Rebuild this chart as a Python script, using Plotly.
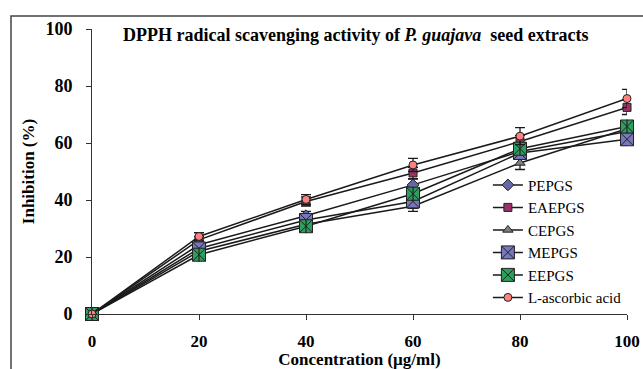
import plotly.graph_objects as go

conc = [0, 20, 40, 60, 80, 100]
pepgs = [0, 24.3, 34.5, 45.3, 57.0, 64.0]
eaepgs = [0, 26.0, 39.5, 49.5, 60.5, 72.5]
cepgs = [0, 22.0, 31.5, 37.8, 53.0, 65.0]
mepgs = [0, 23.0, 33.0, 39.5, 56.5, 61.3]
eepgs = [0, 20.8, 30.8, 42.2, 58.0, 65.8]
ascorbic = [0, 27.2, 40.2, 52.3, 62.4, 75.6]

err_pepgs = [0, 1.2, 1.5, 2.0, 2.0, 2.0]
err_eaepgs = [0, 1.2, 1.6, 2.0, 2.2, 2.5]
err_cepgs = [0, 1.0, 1.5, 1.8, 2.3, 2.0]
err_mepgs = [0, 1.0, 1.5, 1.8, 2.0, 2.0]
err_eepgs = [0, 1.0, 1.2, 1.8, 2.0, 2.0]
err_ascorbic = [0, 1.3, 1.7, 2.3, 3.0, 3.2]

series = [
    ("PEPGS", pepgs, err_pepgs, "diamond", "#6666aa", 9),
    ("EAEPGS", eaepgs, err_eaepgs, "square", "#993366", 8),
    ("CEPGS", cepgs, err_cepgs, "triangle-up", "#808080", 9),
    ("MEPGS", mepgs, err_mepgs, "square-x", "#7777bb", 13),
    ("EEPGS", eepgs, err_eepgs, "square-x", "#2e9e5e", 13),
    ("L-ascorbic acid", ascorbic, err_ascorbic, "circle", "#ff8080", 8),
]

SERIF = "Liberation Serif, Times New Roman, serif"

fig = go.Figure()
for name, vals, err, sym, col, size in series:
    fig.add_trace(go.Scatter(
        x=conc, y=vals, name=name, mode="lines+markers",
        line=dict(color="#1a1a1a", width=1.5),
        marker=dict(symbol=sym, color=col, size=size,
                    line=dict(color="#222222", width=1)),
        error_y=dict(type="data", array=err, visible=True, color="#1a1a1a",
                     thickness=1.3, width=5),
        cliponaxis=False,
    ))
    if name == "EEPGS":
        fig.add_trace(go.Scatter(
            x=conc, y=vals, mode="markers", showlegend=False, hoverinfo="skip",
            marker=dict(symbol="line-ns", size=10, color="#222222",
                        line=dict(color="#222222", width=1.2)),
            cliponaxis=False,
        ))

fig.update_layout(
    width=643, height=369,
    margin=dict(l=92, r=16, t=29, b=55, autoexpand=False),
    paper_bgcolor="white", plot_bgcolor="white",
    font=dict(family=SERIF, color="black"),
    showlegend=True,
    legend=dict(x=0.74, y=0.51, xanchor="left", yanchor="top",
                bgcolor="rgba(0,0,0,0)", font=dict(size=15, family=SERIF),
                tracegroupgap=0, itemsizing="trace"),
    xaxis=dict(range=[0, 100], tickvals=conc, showgrid=False, zeroline=False,
               showline=True, linecolor="#333333", linewidth=1,
               ticks="outside", ticklen=5, tickcolor="#333333",
               ticklabelstandoff=7, automargin=False,
               tickfont=dict(size=17, family=SERIF, weight="bold"),
               title=dict(text="<b>Concentration (µg/ml)</b>",
                          font=dict(size=17, family=SERIF), standoff=0)),
    yaxis=dict(range=[0, 100], tickvals=[0, 20, 40, 60, 80, 100], showgrid=False,
               zeroline=False, showline=True, linecolor="#333333", linewidth=1,
               ticks="outside", ticklen=5, tickcolor="#333333",
               ticklabelstandoff=10, automargin=False,
               tickfont=dict(size=18, family=SERIF, weight="bold"),
               title=dict(text="<b>Inhibition (%)</b>",
                          font=dict(size=17, family=SERIF), standoff=6)),
)

fig.add_annotation(
    text="<b>DPPH radical scavenging activity of <i>P. guajava</i>  seed extracts</b>",
    xref="paper", yref="paper", x=(356 - 92) / 535, y=(314 - 36) / 284,
    xanchor="center", yanchor="middle",
    showarrow=False, font=dict(size=18, family=SERIF, color="black"),
)

fig.add_shape(type="rect", xref="paper", yref="paper",
              x0=(11 - 92) / 535, x1=1.2, y0=-0.4, y1=(314 - 17) / 284,
              line=dict(color="#444444", width=1.5), fillcolor="rgba(0,0,0,0)",
              layer="below")

fig.write_html("out.html")
